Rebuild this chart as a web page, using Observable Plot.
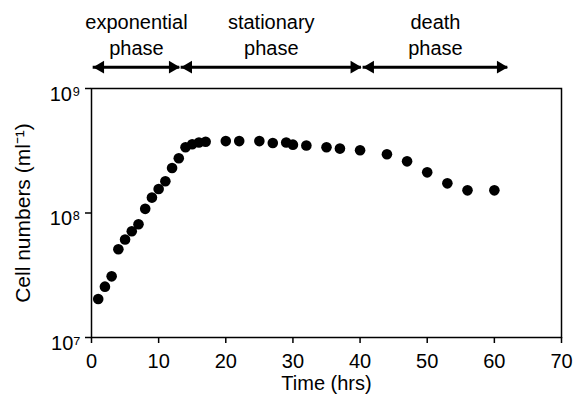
<!DOCTYPE html>
<html>
<head>
<meta charset="utf-8">
<script src="https://cdn.jsdelivr.net/npm/d3@7"></script>
<script src="https://cdn.jsdelivr.net/npm/@observablehq/plot@0.6"></script>
<style>
  body { margin: 0; background: #fff; }
  #chart svg { display: block; }
</style>
</head>
<body>
<div id="chart"></div>
<script>
// Data
const hours = [1, 2, 3, 4, 5, 6, 7, 8, 9, 10, 11, 12, 13, 14, 15, 16, 17, 20, 22, 25, 27, 29, 30, 32, 35, 37, 40, 44, 47, 50, 53, 56, 60];
const cellsPerMl = [2.04e7, 2.56e7, 3.10e7, 5.12e7, 6.12e7, 7.13e7, 8.13e7, 1.08e8, 1.33e8, 1.56e8, 1.80e8, 2.30e8, 2.75e8, 3.37e8, 3.57e8, 3.68e8, 3.74e8, 3.78e8, 3.78e8, 3.78e8, 3.65e8, 3.68e8, 3.54e8, 3.48e8, 3.37e8, 3.29e8, 3.19e8, 2.96e8, 2.60e8, 2.12e8, 1.73e8, 1.52e8, 1.52e8];

const phaseNames = ["exponential\nphase", "stationary\nphase", "death\nphase"];
const phaseStart = [0.25, 13.35, 40.45];
const phaseEnd = [13.15, 40.2, 62];

const xTicks = [0, 10, 20, 30, 40, 50, 60, 70];
const yTicks = [1e7, 1e8, 1e9];
const xLabel = "Time (hrs)";
const yLabel = "Cell numbers (ml\u207B\u00B9)";

const supDigits = {"7": "\u2077", "8": "\u2078", "9": "\u2079"};
const fmtPow = d => "10" + supDigits[String(Math.round(Math.log10(d)))];

const points = hours.map((h, i) => ({h, c: cellsPerMl[i]}));
const phases = phaseNames.map((name, i) => ({name, s: phaseStart[i], e: phaseEnd[i], m: (phaseStart[i] + phaseEnd[i]) / 2}));

const frameTop = () => 1e9;

const chart = Plot.plot({
  width: 575,
  height: 400,
  marginLeft: 91,
  marginRight: 14,
  marginTop: 88,
  marginBottom: 63,
  style: {fontFamily: "'Liberation Sans', Arial, Helvetica, sans-serif", fontSize: "20px", color: "black", background: "white", overflow: "visible"},
  x: {domain: [0, 70]},
  y: {type: "log", domain: [1e7, 1e9]},
  marks: [
    Plot.frame({stroke: "black", strokeWidth: 1.5}),
    Plot.axisX(xTicks, {tickSize: 6, strokeWidth: 1.5, tickPadding: 10, fontSize: 20, label: xLabel, labelAnchor: "center", labelArrow: "none", labelOffset: 52}),
    Plot.axisY(yTicks, {tickSize: 6, strokeWidth: 1.5, tickFormat: () => "", label: null}),
    Plot.axisY(yTicks, {tickSize: 0, tickPadding: 11, dy: 6, fontSize: 20, tickFormat: fmtPow, label: null}),
    Plot.axisY({ticks: [], label: yLabel, labelAnchor: "center", labelArrow: "none", labelOffset: 76, fontSize: 21}),
    Plot.dot(points, {x: "h", y: "c", r: 5.3, fill: "black"}),
    Plot.ruleY(phases, {y: frameTop, x1: "s", x2: "e", dy: -21.3, stroke: "black", strokeWidth: 3}),
    Plot.dot(phases, {x: "e", y: frameTop, dy: -21.3, dx: -7.2, symbol: "triangle", rotate: 90, r: 4.7, fill: "black"}),
    Plot.dot(phases, {x: "s", y: frameTop, dy: -21.3, dx: 7.2, symbol: "triangle", rotate: -90, r: 4.7, fill: "black"}),
    Plot.text(phases, {x: "m", text: "name", frameAnchor: "top", lineAnchor: "top", dy: -78.2, lineHeight: 1.3, fontSize: 20, fill: "black"})
  ]
});
document.getElementById("chart").append(chart);
</script>
</body>
</html>
